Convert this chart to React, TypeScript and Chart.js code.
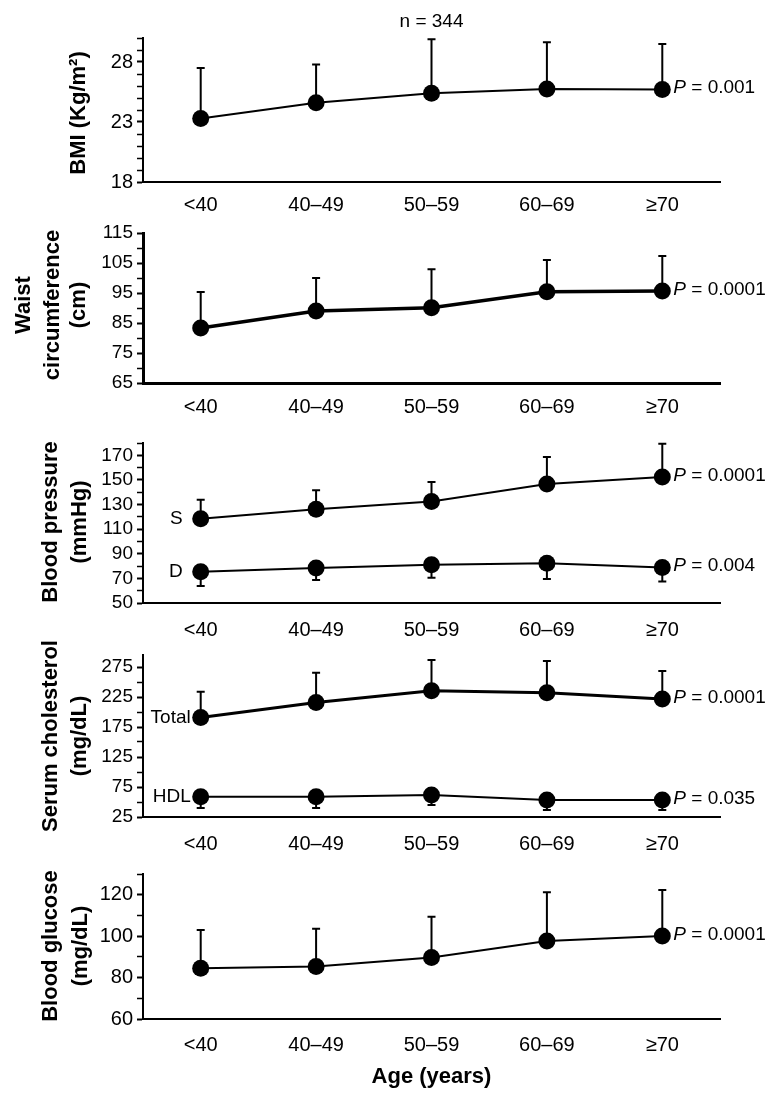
import React, { useEffect, useRef } from 'react';
import { Chart, registerables } from 'chart.js';

Chart.register(...registerables);

const FONT = "'Liberation Sans', Arial, Helvetica, sans-serif";
Chart.defaults.font.family = FONT;
Chart.defaults.color = '#000';

// ---------- data ----------
const ageGroups = ['<40', '40–49', '50–59', '60–69', '≥70'];

const bmiMean = [23.3, 24.6, 25.4, 25.75, 25.7];
const bmiSD = [4.2, 3.2, 4.5, 3.9, 3.8];

const waistMean = [83.3, 89.0, 90.1, 95.4, 95.7];
const waistSD = [12.0, 11.0, 12.8, 10.6, 11.6];

const sbpMean = [118.5, 126.1, 132.5, 146.7, 152.4];
const sbpSD = [15.4, 15.6, 15.8, 22.0, 26.9];
const dbpMean = [75.4, 78.4, 81.0, 82.3, 78.8];
const dbpSD = [11.6, 9.7, 10.4, 12.8, 11.4];

const totalCholMean = [191, 216, 235.5, 232, 221.7];
const totalCholSD = [42.8, 49.5, 51.2, 53, 46.6];
const hdlMean = [58.8, 58.8, 61.7, 53.3, 53.3];
const hdlSD = [18.8, 18.8, 16.7, 16.6, 16.6];

const glucoseMean = [84.5, 85.3, 89.7, 97.7, 100.1];
const glucoseSD = [18.5, 18.3, 19.7, 23.5, 22.2];

const pBmi = '0.001';
const pWaist = '0.0001';
const pSbp = '0.0001';
const pDbp = '0.004';
const pTotal = '0.0001';
const pHdl = '0.035';
const pGlucose = '0.0001';

const bmiTickLabels = [18, 23, 28];
const waistTickLabels = [65, 75, 85, 95, 105, 115];
const bpTickLabels = [50, 70, 90, 110, 130, 150, 170];
const cholTickLabels = [25, 75, 125, 175, 225, 275];
const glucoseTickLabels = [60, 80, 100, 120];

const sampleSize = 'n = 344';
const xTitle = 'Age (years)';

// ---------- layout ----------
type Series = {
  mean: number[];
  sd: number[];
  dir: 'up' | 'down';
  lineW: number;
  p: string;
  name?: string;
  nameGap?: number;
};

type PanelCfg = {
  key: string;
  top: number;
  h: number;
  chartTop: number;
  chartBottom: number;
  axisW: number;
  labelPad: number;
  yFont: number;
  yMin: number;
  yMax: number;
  step: number;
  tickTop: number;
  labeled: number[];
  title: { text: string; x: number }[];
  titleY: number;
  series: Series[];
  showN?: boolean;
  showXTitle?: boolean;
};

const panels: PanelCfg[] = [
  {
    key: 'bmi', top: 0, h: 222, chartTop: 38, chartBottom: 182, axisW: 2, labelPad: 11, yFont: 20,
    yMin: 18, yMax: 30, step: 1, tickTop: 30, labeled: bmiTickLabels,
    title: [{ text: 'BMI (Kg/m²)', x: 79 }], titleY: 113,
    series: [{ mean: bmiMean, sd: bmiSD, dir: 'up', lineW: 2, p: pBmi }],
    showN: true,
  },
  {
    key: 'waist', top: 193, h: 230, chartTop: 233, chartBottom: 383, axisW: 3, labelPad: 12, yFont: 19,
    yMin: 65, yMax: 115, step: 5, tickTop: 115, labeled: waistTickLabels,
    title: [
      { text: 'Waist', x: 24 },
      { text: 'circumference', x: 53 },
      { text: '(cm)', x: 79 },
    ],
    titleY: 305,
    series: [{ mean: waistMean, sd: waistSD, dir: 'up', lineW: 3.5, p: pWaist }],
  },
  {
    key: 'bp', top: 403, h: 240, chartTop: 443, chartBottom: 603, axisW: 2, labelPad: 15, yFont: 19,
    yMin: 50, yMax: 180, step: 10, tickTop: 180, labeled: bpTickLabels,
    title: [
      { text: 'Blood pressure', x: 51 },
      { text: '(mmHg)', x: 80 },
    ],
    titleY: 522,
    series: [
      { mean: sbpMean, sd: sbpSD, dir: 'up', lineW: 2, p: pSbp, name: 'S', nameGap: 18 },
      { mean: dbpMean, sd: dbpSD, dir: 'down', lineW: 2, p: pDbp, name: 'D', nameGap: 18 },
    ],
  },
  {
    key: 'chol', top: 615, h: 242, chartTop: 655, chartBottom: 817, axisW: 2, labelPad: 15, yFont: 19,
    yMin: 25, yMax: 295, step: 25, tickTop: 275, labeled: cholTickLabels,
    title: [
      { text: 'Serum cholesterol', x: 51 },
      { text: '(mg/dL)', x: 80 },
    ],
    titleY: 736,
    series: [
      { mean: totalCholMean, sd: totalCholSD, dir: 'up', lineW: 3, p: pTotal, name: 'Total', nameGap: 10 },
      { mean: hdlMean, sd: hdlSD, dir: 'down', lineW: 2, p: pHdl, name: 'HDL', nameGap: 10 },
    ],
  },
  {
    key: 'glucose', top: 834, h: 270, chartTop: 874, chartBottom: 1019, axisW: 2, labelPad: 14, yFont: 20,
    yMin: 60, yMax: 130, step: 10, tickTop: 130, labeled: glucoseTickLabels,
    title: [
      { text: 'Blood glucose', x: 51 },
      { text: '(mg/dL)', x: 81 },
    ],
    titleY: 946,
    series: [{ mean: glucoseMean, sd: glucoseSD, dir: 'up', lineW: 2, p: pGlucose }],
    showXTitle: true,
  },
];

function drawP(ctx: CanvasRenderingContext2D, x: number, y: number, value: string) {
  ctx.textAlign = 'left';
  ctx.textBaseline = 'middle';
  ctx.font = `italic 19px ${FONT}`;
  ctx.fillText('P', x, y);
  const w = ctx.measureText('P').width;
  ctx.font = `19px ${FONT}`;
  ctx.fillText(' = ' + value, x + w, y);
}

function makePlugin(cfg: PanelCfg) {
  return {
    id: 'annot_' + cfg.key,
    beforeDatasetsDraw(chart: any) {
      const ctx: CanvasRenderingContext2D = chart.ctx;
      const ys = chart.scales.y;
      ctx.save();
      ctx.strokeStyle = '#000';
      ctx.lineWidth = 2;
      cfg.series.forEach((s, di) => {
        const meta = chart.getDatasetMeta(di);
        s.mean.forEach((m, i) => {
          const px = meta.data[i].x;
          const py = ys.getPixelForValue(m);
          const ey = ys.getPixelForValue(s.dir === 'up' ? m + s.sd[i] : m - s.sd[i]);
          ctx.beginPath();
          ctx.moveTo(px, py);
          ctx.lineTo(px, ey);
          ctx.moveTo(px - 4, ey);
          ctx.lineTo(px + 4, ey);
          ctx.stroke();
        });
      });
      ctx.restore();
    },
    afterDraw(chart: any) {
      const ctx: CanvasRenderingContext2D = chart.ctx;
      const ys = chart.scales.y;
      ctx.save();
      ctx.fillStyle = '#000';
      cfg.title.forEach((t) => {
        ctx.save();
        ctx.translate(t.x, cfg.titleY - cfg.top);
        ctx.rotate(-Math.PI / 2);
        ctx.textAlign = 'center';
        ctx.textBaseline = 'middle';
        ctx.font = `bold 22px ${FONT}`;
        ctx.fillText(t.text, 0, 0);
        ctx.restore();
      });
      cfg.series.forEach((s, di) => {
        const meta = chart.getDatasetMeta(di);
        const last = meta.data[s.mean.length - 1];
        drawP(ctx, last.x + 11, ys.getPixelForValue(s.mean[s.mean.length - 1]) - 1.5, s.p);
        if (s.name) {
          const first = meta.data[0];
          ctx.textAlign = 'right';
          ctx.textBaseline = 'middle';
          ctx.font = `19px ${FONT}`;
          ctx.fillText(s.name, first.x - (s.nameGap || 10), ys.getPixelForValue(s.mean[0]));
        }
      });
      if (cfg.showN) {
        const meta = chart.getDatasetMeta(0);
        ctx.textAlign = 'center';
        ctx.textBaseline = 'middle';
        ctx.font = `19px ${FONT}`;
        ctx.fillText(sampleSize, meta.data[2].x, 22 - cfg.top);
      }
      if (cfg.showXTitle) {
        const ca = chart.chartArea;
        ctx.textAlign = 'center';
        ctx.textBaseline = 'middle';
        ctx.font = `bold 22px ${FONT}`;
        ctx.fillText(xTitle, (ca.left + ca.right) / 2, 1077 - cfg.top);
      }
      ctx.restore();
    },
  };
}

function Panel({ cfg }: { cfg: PanelCfg }) {
  const ref = useRef<HTMLCanvasElement>(null);
  useEffect(() => {
    const canvas = ref.current;
    if (!canvas) return;
    const tickValues: number[] = [];
    for (let v = cfg.yMin; v <= cfg.tickTop + 1e-9; v += cfg.step) tickValues.push(v);
    const chart = new Chart(canvas, {
      type: 'line',
      data: {
        labels: ageGroups,
        datasets: cfg.series.map((s) => ({
          data: s.mean,
          borderColor: '#000',
          backgroundColor: '#000',
          borderWidth: s.lineW,
          pointRadius: 8.5,
          pointHoverRadius: 8.5,
          pointBackgroundColor: '#000',
          pointBorderColor: '#000',
          pointBorderWidth: 0,
          tension: 0,
          fill: false,
          clip: false as any,
        })),
      },
      options: {
        animation: false,
        responsive: false,
        maintainAspectRatio: false,
        devicePixelRatio: 1,
        events: [],
        layout: {
          padding: { left: 0, right: 64, top: cfg.chartTop - cfg.top, bottom: 0 },
        },
        plugins: {
          legend: { display: false },
          tooltip: { enabled: false },
          title: { display: false },
        },
        scales: {
          x: {
            type: 'category',
            offset: true,
            grid: { display: true, drawOnChartArea: false, drawTicks: false },
            border: { display: true, color: '#000', width: cfg.axisW },
            ticks: {
              color: '#000',
              font: { size: 20, family: FONT },
              padding: cfg.labelPad,
              maxRotation: 0,
              autoSkip: false,
            },
            afterFit: (s: any) => {
              s.height = cfg.h - (cfg.chartBottom - cfg.top);
            },
          },
          y: {
            type: 'linear',
            min: cfg.yMin,
            max: cfg.yMax,
            afterBuildTicks: (s: any) => {
              s.ticks = tickValues.map((v) => ({ value: v }));
            },
            ticks: {
              color: '#000',
              font: { size: cfg.yFont, family: FONT },
              padding: 4,
              autoSkip: false,
              callback: (v: any) => (cfg.labeled.includes(Number(v)) ? String(v) : ''),
            },
            grid: {
              display: true,
              drawOnChartArea: false,
              drawTicks: true,
              tickLength: 6,
              tickColor: '#000',
              tickWidth: (c: any) => (c.tick && cfg.labeled.includes(c.tick.value) ? 2 : 1.5),
            },
            border: { display: true, color: '#000', width: cfg.axisW },
            afterFit: (s: any) => {
              s.width = 143;
            },
          },
        },
      },
      plugins: [makePlugin(cfg)],
    } as any);
    return () => chart.destroy();
  }, [cfg]);
  return (
    <canvas
      ref={ref}
      width={784}
      height={cfg.h}
      style={{ position: 'absolute', left: 0, top: cfg.top, width: 784, height: cfg.h }}
    />
  );
}

export default function App() {
  return (
    <div
      style={{
        position: 'absolute',
        left: 0,
        top: 0,
        width: 784,
        height: 1104,
        background: '#fff',
        overflow: 'hidden',
      }}
    >
      {panels.map((p) => (
        <Panel key={p.key} cfg={p} />
      ))}
    </div>
  );
}
